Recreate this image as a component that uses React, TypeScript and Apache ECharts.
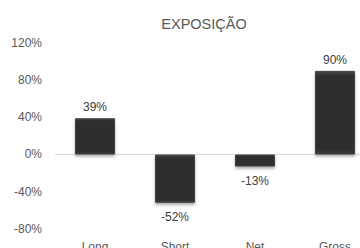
import React, { useEffect, useRef } from "react";
import * as echarts from "echarts";

const categories = ["Long", "Short", "Net", "Gross"];
const exposure = [39, -52, -13, 90];
const yTicks = [-80, -40, 0, 40, 80, 120];
const titleText = "EXPOSIÇÃO";

export default function App() {
  const ref = useRef<HTMLDivElement>(null);
  useEffect(() => {
    if (!ref.current) return;
    const chart = echarts.init(ref.current, undefined, { renderer: "svg" });
    const font = "Liberation Sans";
    chart.setOption({
      animation: false,
      backgroundColor: "#ffffff",
      title: {
        text: titleText,
        left: 199,
        top: 11,
        textAlign: "center",
        textStyle: { color: "#595959", fontSize: 14.5, fontWeight: "normal", fontFamily: font },
      },
      grid: { left: 55, right: 0, top: 43, bottom: 19.2, containLabel: false, outerBoundsMode: "none" },
      xAxis: {
        type: "category",
        data: categories,
        axisLine: { show: false, onZero: false },
        axisTick: { show: false },
        axisLabel: { color: "#595959", fontSize: 12, fontFamily: font, margin: 12 },
      },
      yAxis: {
        type: "value",
        min: yTicks[0],
        max: yTicks[yTicks.length - 1],
        interval: 40,
        axisLine: { show: false },
        axisTick: { show: false },
        axisLabel: { color: "#595959", fontSize: 12, fontFamily: font, margin: 13, formatter: "{value}%" },
        splitLine: {
          show: true,
          lineStyle: {
            color: yTicks.map((t) => (t === 0 ? "#d9d9d9" : "rgba(0,0,0,0)")),
            width: 1,
          },
        },
      },
      series: [
        {
          type: "bar",
          barWidth: 40,
          data: exposure.map((v) => ({
            value: v,
            label: {
              show: true,
              position: v >= 0 ? "top" : "bottom",
              distance: v >= 0 ? 5 : 8,
              formatter: "{c}%",
              color: "#404040",
              fontSize: 12,
              fontFamily: font,
            },
          })),
          itemStyle: {
            color: {
              type: "linear",
              x: 0,
              y: 0,
              x2: 0,
              y2: 1,
              colorStops: [
                { offset: 0, color: "#4a4a4a" },
                { offset: 0.06, color: "#2e2e2e" },
                { offset: 0.94, color: "#2e2e2e" },
                { offset: 1, color: "#3a3a3a" },
              ],
            },
            borderColor: "#454545",
            borderWidth: 1,
            shadowBlur: 3,
            shadowColor: "rgba(0,0,0,0.35)",
            shadowOffsetY: 2,
          },
        },
      ],
    });
    return () => chart.dispose();
  }, []);
  return (
    <div style={{ position: "fixed", left: 0, top: 0, width: 360, height: 248, overflow: "hidden", background: "#fff" }}>
      <div ref={ref} style={{ width: 375, height: 248 }} />
    </div>
  );
}
